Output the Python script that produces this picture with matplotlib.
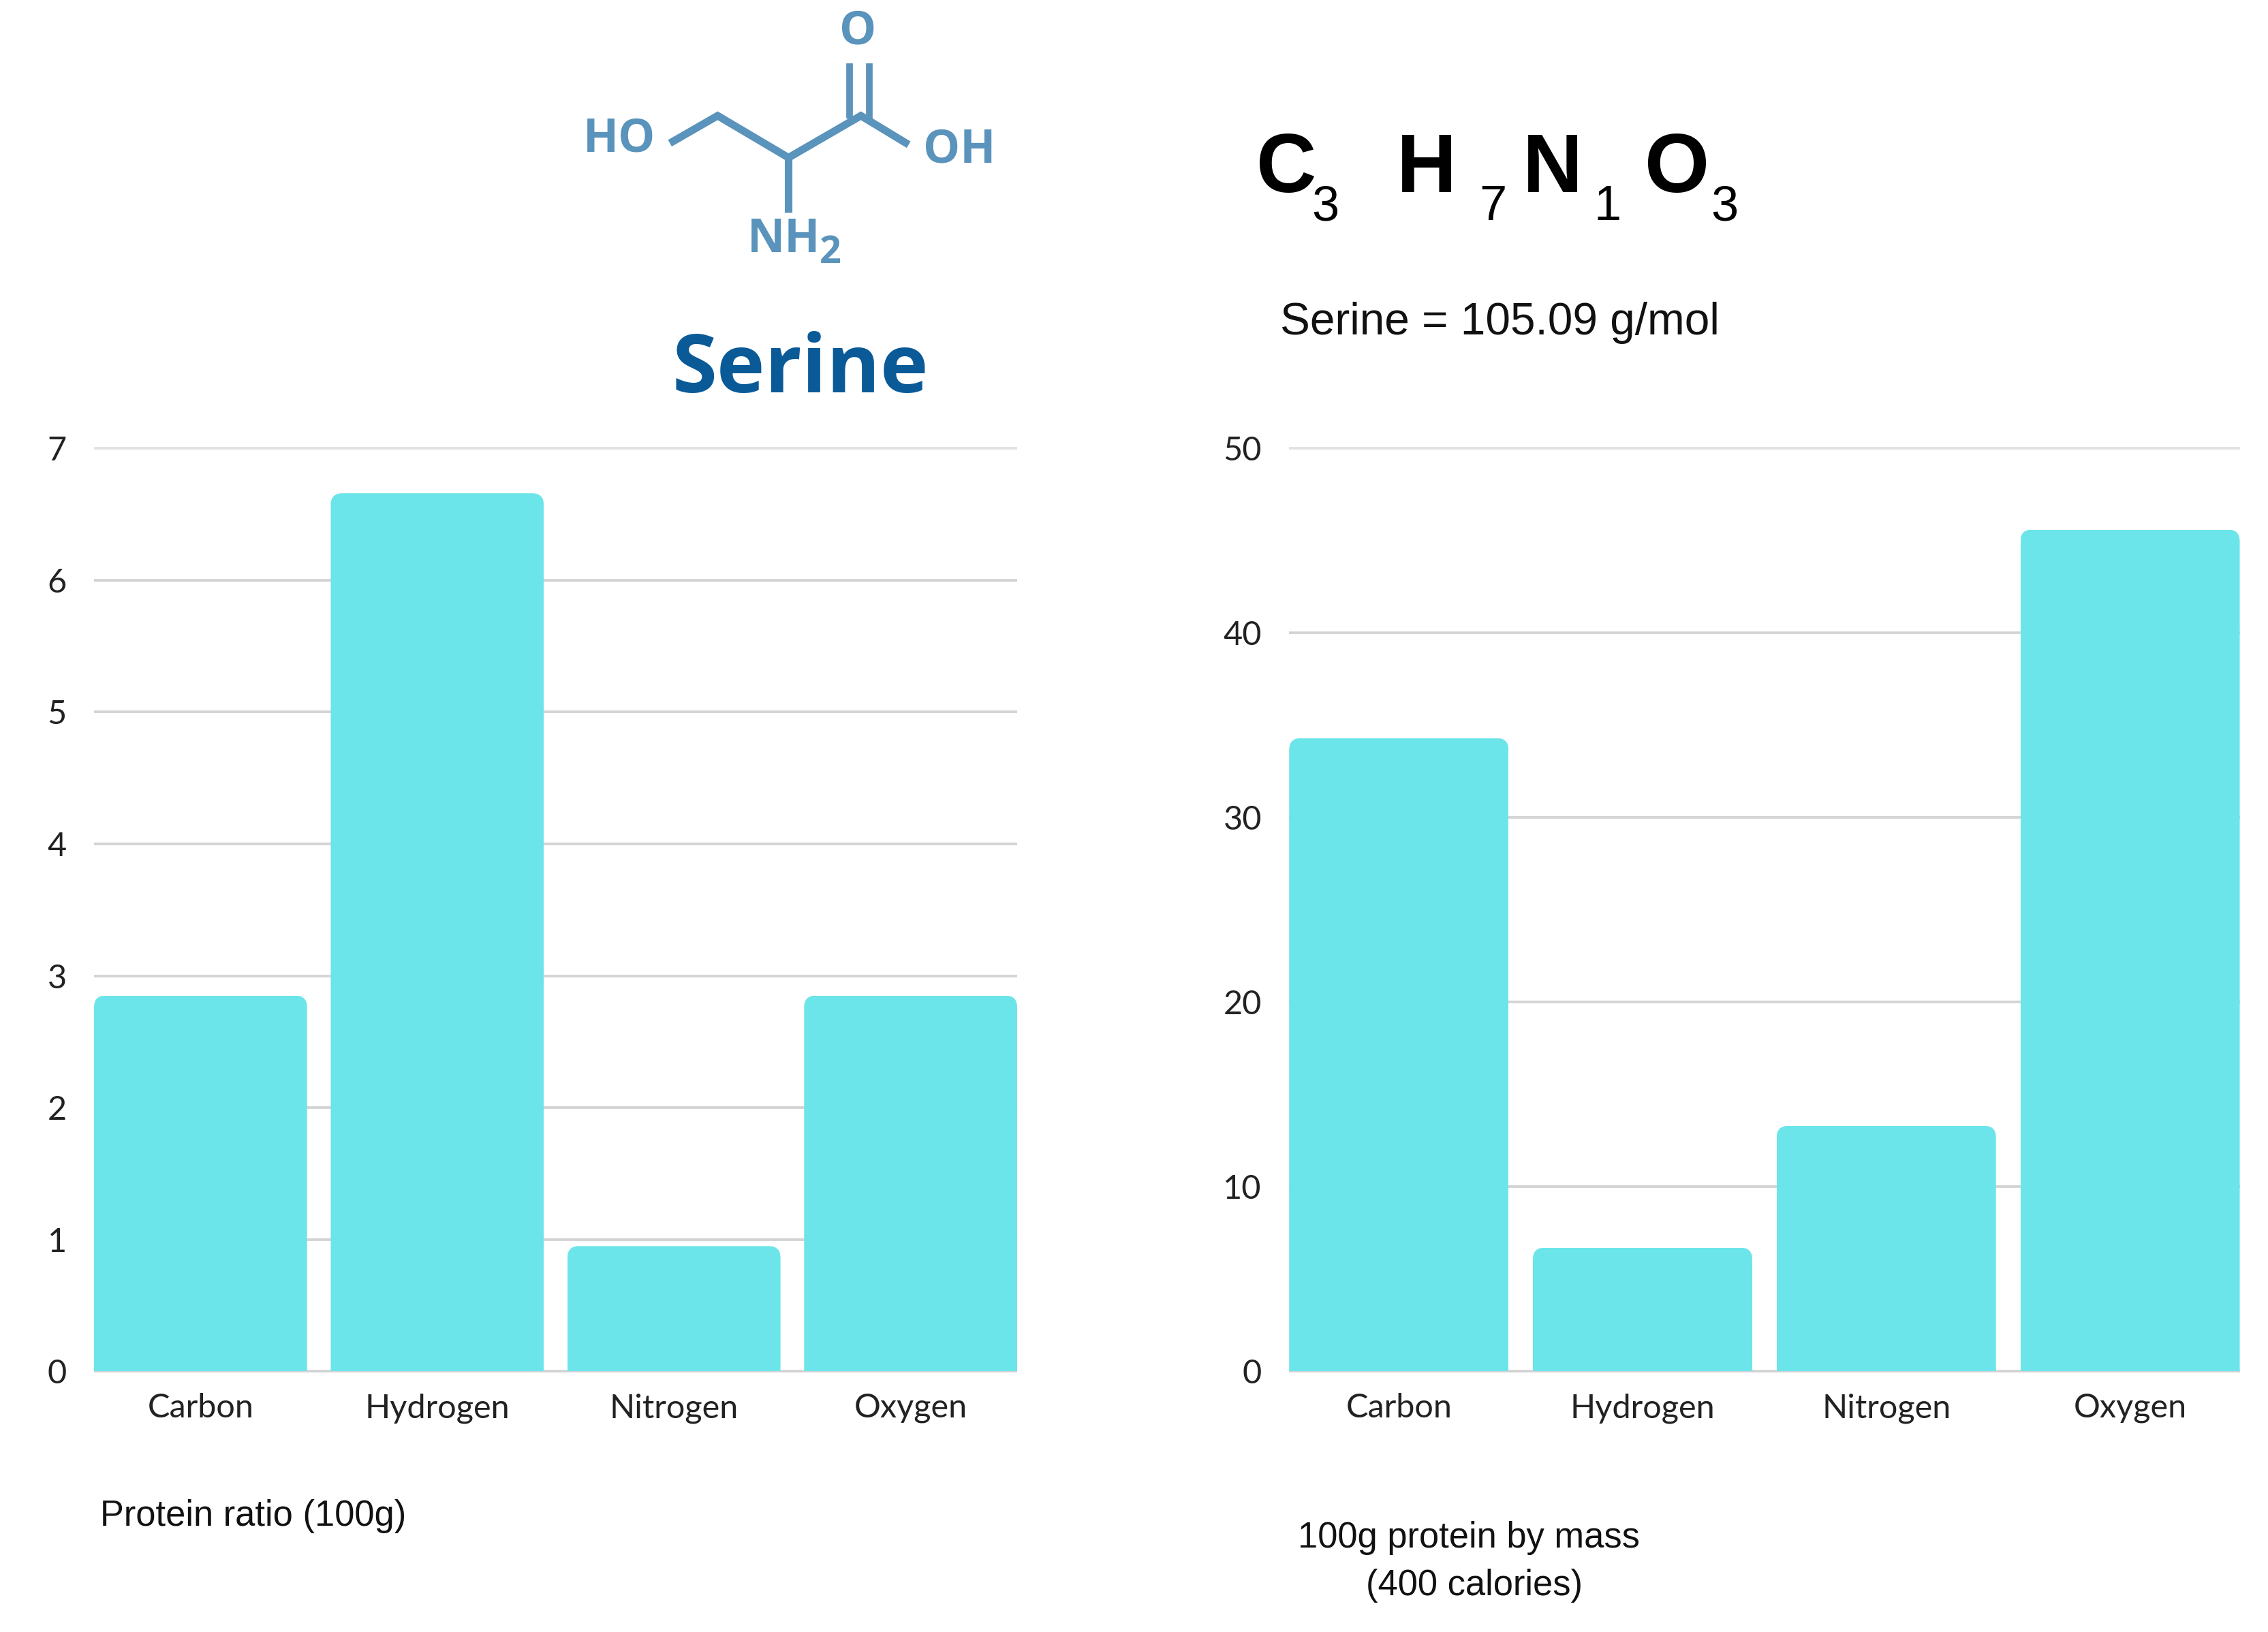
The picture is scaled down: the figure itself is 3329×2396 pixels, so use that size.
#!/usr/bin/python3
# coding: utf-8

import matplotlib
matplotlib.use("Agg")
import matplotlib.pyplot as plt
from matplotlib.patches import FancyBboxPatch

elements = ["Carbon", "Hydrogen", "Nitrogen", "Oxygen"]
ratio_values = [2.85, 6.66, 0.95, 2.85]
mass_values = [34.3, 6.7, 13.3, 45.6]
ratio_ticks = [0, 1, 2, 3, 4, 5, 6, 7]
mass_ticks = [0, 10, 20, 30, 40, 50]

W, H = 3330, 2396
BAR_COLOR = "#6be5ea"
GRID_COLOR = "#d4d4d4"
MOL_COLOR = "#5a93bb"
TITLE_COLOR = "#0a5a98"
TICK_FONT = "Lato"
TEXT_FONT = "Liberation Sans"


def bar_panel(fig, box, values, ticks):
    # box is left, right, bottom, top in the 1568 wide layout used below
    left, right, bottom, top = box
    ax = fig.add_axes([left / 1568, 1 - bottom / 1128.2,
                       (right - left) / 1568, (bottom - top) / 1128.2])
    x = list(range(len(values)))
    bars = ax.bar(x, values, width=0.9, color=BAR_COLOR, zorder=3)
    ax.set_xlim(-0.45, len(values) - 0.55)
    ax.set_ylim(ticks[0], ticks[-1])
    ax.set_xticks(x)
    ax.set_xticklabels(elements)
    ax.set_yticks(ticks)
    ax.grid(axis="y", color=GRID_COLOR, linewidth=2.8, zorder=1)
    ax.set_axisbelow(True)
    ax.tick_params(length=0, labelsize=35, labelcolor="#222222")
    ax.tick_params(axis="x", pad=23)
    ax.tick_params(axis="y", pad=29)
    for label in ax.get_xticklabels() + ax.get_yticklabels():
        label.set_fontfamily(TICK_FONT)
    for spine in ax.spines.values():
        spine.set_visible(False)
    # the 0 and top lines sit on the axes edge
    for line in ax.get_ygridlines():
        line.set_clip_on(False)
        line.set_solid_capstyle("butt")
    ax.get_ygridlines()[-1].set_color("#e2e2e2")

    # rounded tops, the box goes below the axis so only the top corners show
    x_px = (right - left) * W / 1568 / (ax.get_xlim()[1] - ax.get_xlim()[0])
    y_px = (bottom - top) * H / 1128.2 / (ticks[-1] - ticks[0])
    r = 17 / x_px
    for bar in bars:
        clip = FancyBboxPatch(
            (bar.get_x(), -ticks[-1] * 0.1), bar.get_width(),
            bar.get_height() + ticks[-1] * 0.1,
            boxstyle="round,pad=0,rounding_size=%f" % r,
            mutation_aspect=x_px / y_px, transform=ax.transData)
        bar.set_clip_path(clip)
    return ax


fig = plt.figure(figsize=(W / 100, H / 100), dpi=100, facecolor="white")

bar_panel(fig, (65, 703, 948, 310), ratio_values, ratio_ticks)
bar_panel(fig, (891, 1548, 948, 310), mass_values, mass_ticks)

# overlay for the molecule and the loose texts
ov = fig.add_axes([0, 0, 1, 1], facecolor="none")
ov.set_xlim(0, 1568)
ov.set_ylim(1128.2, 0)
ov.axis("off")

# skeleton of the molecule
ov.plot([463, 496, 545, 595, 628], [99, 80, 109, 80, 100], color=MOL_COLOR,
        linewidth=8, solid_joinstyle="miter", solid_capstyle="butt")
ov.plot([545, 545], [109, 147], color=MOL_COLOR, linewidth=8, solid_capstyle="butt")
ov.plot([587, 587], [44, 82], color=MOL_COLOR, linewidth=7, solid_capstyle="butt")
ov.plot([601, 601], [44, 82], color=MOL_COLOR, linewidth=7, solid_capstyle="butt")


def mol_label(x, y, s, size=49):
    ov.text(x, y, s, color=MOL_COLOR, fontsize=size, fontweight="bold",
            family="Open Sans", ha="center", va="center_baseline")


mol_label(428, 92.5, "HO")
mol_label(593, 18, "O")
mol_label(663, 100, "OH")
mol_label(542, 162, "NH")
mol_label(574, 172, "2", size=40)

ov.text(553, 250, "Serine", color=TITLE_COLOR, fontsize=86, fontweight="bold",
        family="Open Sans", ha="center", va="center_baseline")

# formula, each letter placed on its own because of the uneven gaps
for x, s in [(889, "C"), (986, "H"), (1073, "N"), (1159, "O")]:
    ov.text(x, 112, s, fontsize=88, fontweight="bold", family=TEXT_FONT,
            ha="center", va="center_baseline", color="black")
for x, s in [(916, "3"), (1032, "7"), (1111, "1"), (1192, "3")]:
    ov.text(x, 140, s, fontsize=52, family=TEXT_FONT,
            ha="center", va="center_baseline", color="black")

ov.text(885, 220, "Serine = 105.09 g/mol", fontsize=47.3, family=TEXT_FONT,
        ha="left", va="center_baseline", color="#111111")
ov.text(69, 1045.5, "Protein ratio (100g)", fontsize=37.8, family=TEXT_FONT,
        ha="left", va="center_baseline", color="#111111")
ov.text(897, 1060.5, "100g protein by mass", fontsize=37.8, family=TEXT_FONT,
        ha="left", va="center_baseline", color="#111111")
ov.text(944, 1093.5, "(400 calories)", fontsize=37.8, family=TEXT_FONT,
        ha="left", va="center_baseline", color="#111111")

fig.savefig("out.png", dpi=100)
